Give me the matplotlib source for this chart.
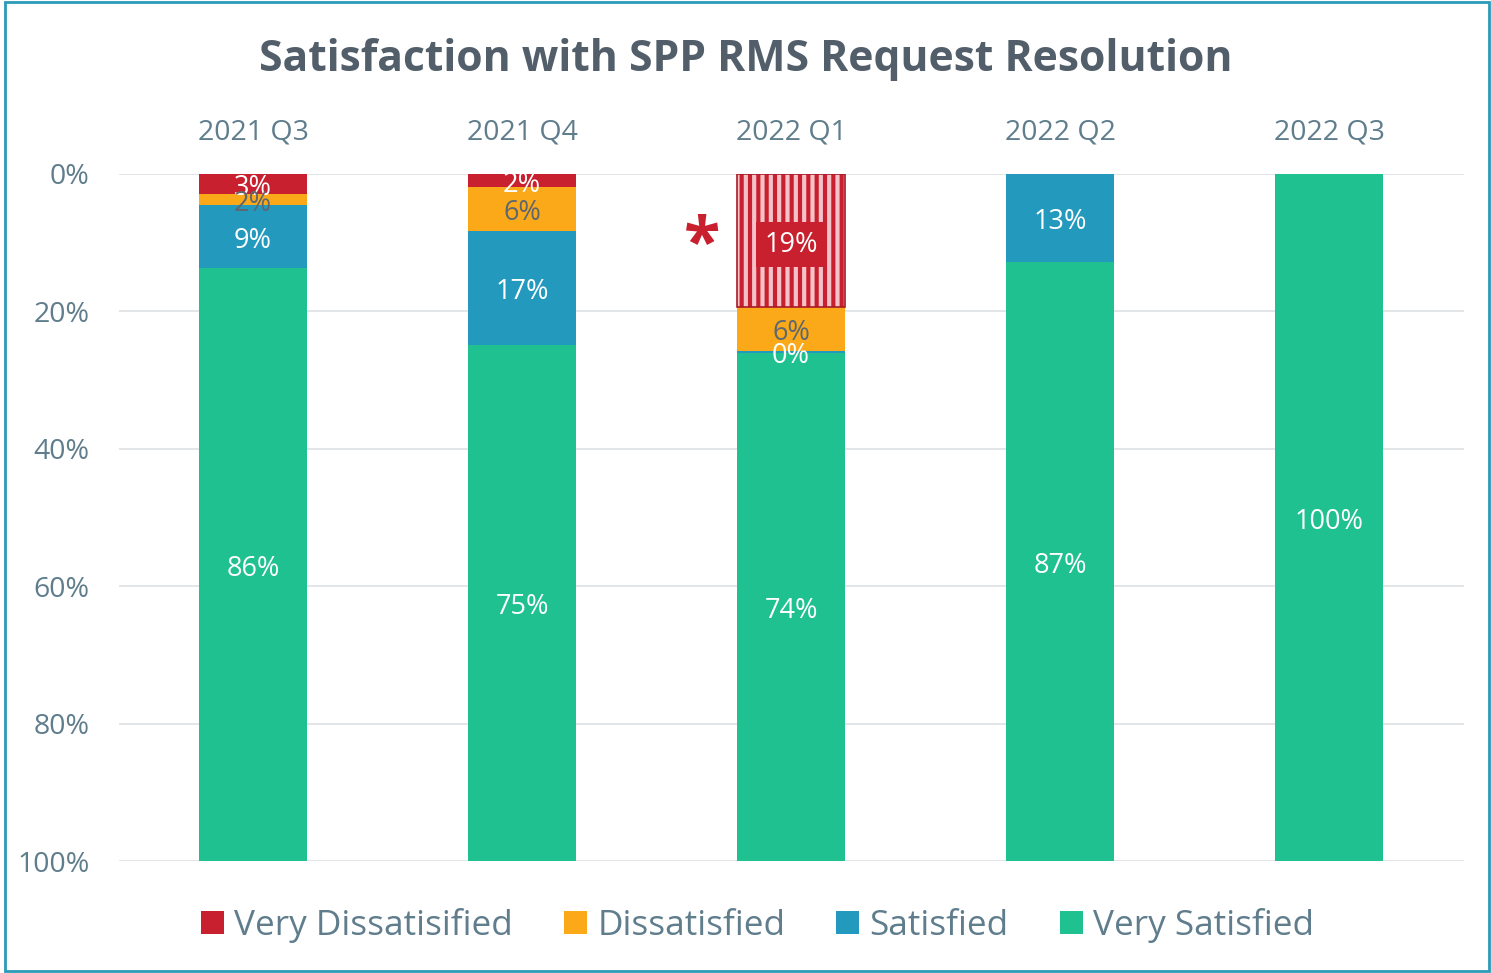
import matplotlib.pyplot as plt
from matplotlib.patches import Rectangle
import numpy as np

plt.rcParams['font.family'] = ['Open Sans', 'DejaVu Sans']
plt.rcParams['hatch.linewidth'] = 3.0

quarters = ["2021 Q3", "2021 Q4", "2022 Q1", "2022 Q2", "2022 Q3"]
series = ["Very Dissatisified", "Dissatisfied", "Satisfied", "Very Satisfied"]
very_dissatisfied = [2.9, 1.9, 19.4, 0.0, 0.0]
dissatisfied = [1.6, 6.4, 6.4, 0.0, 0.0]
satisfied = [9.2, 16.6, 0.3, 12.8, 0.0]
very_satisfied = [86.3, 75.1, 73.9, 87.2, 100.0]

colors = ["#c8202e", "#fba919", "#2399be", "#1fc190"]
label_colors = ["white", "#5d6770", "white", "white"]
text_col = "#5f7d8c"

fig = plt.figure(figsize=(14.91, 9.73), dpi=100)
ax = fig.add_axes([0.0795, 0.1151, 0.9021, 0.7061])

x = np.arange(len(quarters))
bottom = np.zeros(len(quarters))
for name, vals, c, lc in zip(series, [very_dissatisfied, dissatisfied, satisfied, very_satisfied],
                             colors, label_colors):
    vals = np.array(vals)
    bars = ax.bar(x, vals, 0.4, bottom=bottom, color=c, label=name, zorder=2)
    for i, (v, b) in enumerate(zip(vals, bottom)):
        if v <= 0:
            continue
        ypos = b + v / 2 + 0.6
        if name == "Very Dissatisified" and i == 2:
            # highlighted bar: striped fill with boxed label
            bars[i].set_visible(False)
            ax.bar(x[i], v, 0.4, bottom=b, color=c, edgecolor="#f4c3c9", hatch="||",
                   linewidth=0, zorder=2)
            ax.bar(x[i], v, 0.4, bottom=b, fill=False, edgecolor="#a81a26",
                   linewidth=1.2, zorder=3)
            ax.text(x[i], ypos, f"{v:.0f}%", ha="center", va="center", color="white",
                    fontsize=19.5, zorder=4,
                    bbox=dict(boxstyle="square,pad=0.32", fc=c, ec="none"))
        else:
            ax.text(x[i], ypos, f"{v:.0f}%", ha="center", va="center", color=lc,
                    fontsize=19.5, zorder=4)
    bottom += vals

ax.text(1.67, 10.5, "*", ha="center", va="center", color="#c8202e", fontsize=48,
        fontweight="bold", zorder=4)

ax.set_xlim(-0.5, 4.5)
ax.set_ylim(100, 0)
ax.set_yticks(np.arange(0, 101, 20))
ax.set_yticklabels([f"{t}%" for t in range(0, 101, 20)])
ax.set_xticks(x)
ax.set_xticklabels(quarters)
ax.xaxis.tick_top()
ax.tick_params(axis="x", length=0, pad=19.6, labelsize=20.5, labelcolor=text_col)
ax.tick_params(axis="y", length=0, pad=21, labelsize=20.5, labelcolor=text_col)
ax.yaxis.grid(True, color="#dde1e4", linewidth=1.2, zorder=0)
ax.set_axisbelow(True)
for s in ax.spines.values():
    s.set_visible(False)

fig.text(0.5, 0.939, "Satisfaction with SPP RMS Request Resolution", ha="center", va="center",
         fontsize=30.7, fontweight="bold", color="#525e69")

leg = fig.legend(loc="center", bbox_to_anchor=(0.508, 0.049), ncol=4, frameon=False,
                 fontsize=25.3, handlelength=0.65, handleheight=0.65, columnspacing=1.45,
                 handletextpad=0.3, borderaxespad=0)
for t in leg.get_texts():
    t.set_color(text_col)

fig.patches.append(Rectangle((0.0035, 0.002), 0.995, 0.996, transform=fig.transFigure,
                             fill=False, edgecolor="#2a9bb8", linewidth=2))

fig.savefig("out.png", dpi=100)
